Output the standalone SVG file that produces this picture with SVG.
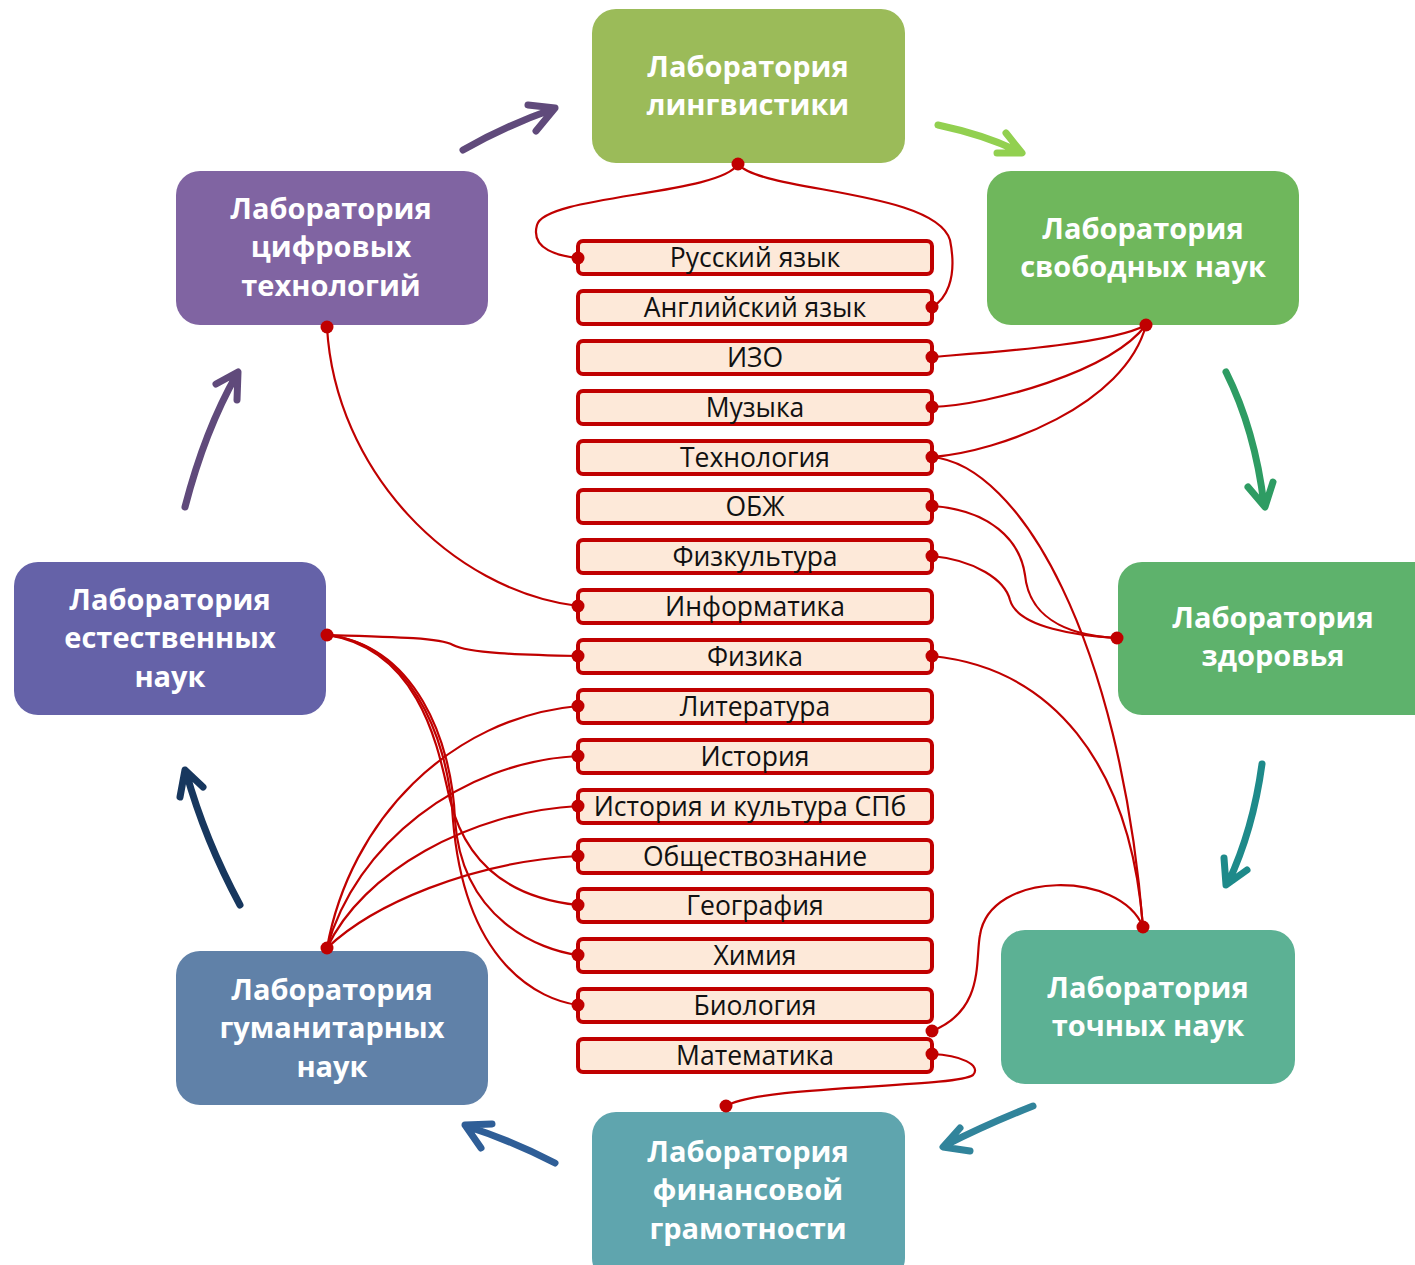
<svg xmlns="http://www.w3.org/2000/svg" width="1415" height="1265" viewBox="0 0 1415 1265">
<style>
.lab text{font-family:"Open Sans","Noto Sans",sans-serif;font-weight:bold;font-size:29px;fill:#fff;text-anchor:middle}
.subj rect{fill:#FDE9D9;stroke:#C00000;stroke-width:4}
.subj text{font-family:"Open Sans","Noto Sans",sans-serif;font-size:26.5px;fill:#111;text-anchor:middle}
.conn path{fill:none;stroke:#C00000;stroke-width:2.2}
.conn circle{fill:#C00000}
.cyc path{fill:none;stroke-width:7;stroke-linecap:round;stroke-linejoin:round}
</style>
<rect width="1415" height="1265" fill="#fff"/>

<g class="cyc" id="cycle-arrows">
<path stroke="#604A7B" d="M463,150 Q505,126 553,109 M528,105 L555,108 L536,131"/>
<path stroke="#92D050" d="M938,125 Q985,135 1020,152 M1006,133 L1022,153 L997,153"/>
<path stroke="#2E9C63" d="M1226,372 Q1255,430 1264,505 M1248,487 L1265,507 L1273,482"/>
<path stroke="#1E8A8A" d="M1262,764 Q1253,830 1228,883 M1224,858 L1226,885 L1247,870"/>
<path stroke="#31849B" d="M1033,1106 Q985,1125 944,1146 M960,1128 L943,1147 L970,1151"/>
<path stroke="#2F5E97" d="M555,1163 Q510,1140 466,1126 M492,1124 L465,1125 L481,1148"/>
<path stroke="#17375E" d="M240,905 Q205,840 186,772 M180,797 L185,770 L203,787"/>
<path stroke="#604A7B" d="M185,507 Q205,430 237,374 M216,384 L238,372 L237,400"/>
</g>

<g class="lab" id="lab-ling"><rect x="592" y="9" width="313" height="154" rx="24" fill="#9BBB59"/><text x="748" y="77">Лаборатория</text><text x="748" y="115">лингвистики</text></g>
<g class="lab" id="lab-free"><rect x="987" y="171" width="312" height="154" rx="24" fill="#6FB75C"/><text x="1143" y="239">Лаборатория</text><text x="1143" y="277">свободных наук</text></g>
<g class="lab" id="lab-health"><rect x="1118" y="562" width="320" height="153" rx="24" fill="#5EB26C"/><text x="1273" y="628">Лаборатория</text><text x="1273" y="666">здоровья</text></g>
<g class="lab" id="lab-exact"><rect x="1001" y="930" width="294" height="154" rx="24" fill="#5CB194"/><text x="1148" y="998">Лаборатория</text><text x="1148" y="1036">точных наук</text></g>
<g class="lab" id="lab-fin"><rect x="592" y="1112" width="313" height="170" rx="24" fill="#5FA5AE"/><text x="748" y="1162">Лаборатория</text><text x="748" y="1200">финансовой</text><text x="748" y="1239">грамотности</text></g>
<g class="lab" id="lab-hum"><rect x="176" y="951" width="312" height="154" rx="24" fill="#6081A8"/><text x="332" y="1000">Лаборатория</text><text x="332" y="1038">гуманитарных</text><text x="332" y="1077">наук</text></g>
<g class="lab" id="lab-nat"><rect x="14" y="562" width="312" height="153" rx="24" fill="#6562A8"/><text x="170" y="610">Лаборатория</text><text x="170" y="648">естественных</text><text x="170" y="687">наук</text></g>
<g class="lab" id="lab-digit"><rect x="176" y="171" width="312" height="154" rx="24" fill="#8064A2"/><text x="331" y="219">Лаборатория</text><text x="331" y="257">цифровых</text><text x="331" y="296">технологий</text></g>

<g class="subj" id="s-rus"><rect x="578" y="241" width="354" height="33" rx="5"/><text x="755" y="267">Русский язык</text></g>
<g class="subj" id="s-eng"><rect x="578" y="291" width="354" height="33" rx="5"/><text x="755" y="317">Английский язык</text></g>
<g class="subj" id="s-izo"><rect x="578" y="341" width="354" height="33" rx="5"/><text x="755" y="367">ИЗО</text></g>
<g class="subj" id="s-mus"><rect x="578" y="391" width="354" height="33" rx="5"/><text x="755" y="417">Музыка</text></g>
<g class="subj" id="s-tech"><rect x="578" y="441" width="354" height="33" rx="5"/><text x="755" y="467">Технология</text></g>
<g class="subj" id="s-obzh"><rect x="578" y="490" width="354" height="33" rx="5"/><text x="755" y="516">ОБЖ</text></g>
<g class="subj" id="s-pe"><rect x="578" y="540" width="354" height="33" rx="5"/><text x="755" y="566">Физкультура</text></g>
<g class="subj" id="s-inf"><rect x="578" y="590" width="354" height="33" rx="5"/><text x="755" y="616">Информатика</text></g>
<g class="subj" id="s-phys"><rect x="578" y="640" width="354" height="33" rx="5"/><text x="755" y="666">Физика</text></g>
<g class="subj" id="s-lit"><rect x="578" y="690" width="354" height="33" rx="5"/><text x="755" y="716">Литература</text></g>
<g class="subj" id="s-hist"><rect x="578" y="740" width="354" height="33" rx="5"/><text x="755" y="766">История</text></g>
<g class="subj" id="s-spb"><rect x="578" y="790" width="354" height="33" rx="5"/><text x="750" y="816">История и культура СПб</text></g>
<g class="subj" id="s-soc"><rect x="578" y="840" width="354" height="33" rx="5"/><text x="755" y="866">Обществознание</text></g>
<g class="subj" id="s-geo"><rect x="578" y="889" width="354" height="33" rx="5"/><text x="755" y="915">География</text></g>
<g class="subj" id="s-chem"><rect x="578" y="939" width="354" height="33" rx="5"/><text x="755" y="965">Химия</text></g>
<g class="subj" id="s-bio"><rect x="578" y="989" width="354" height="33" rx="5"/><text x="755" y="1015">Биология</text></g>
<g class="subj" id="s-math"><rect x="578" y="1039" width="354" height="33" rx="5"/><text x="755" y="1065">Математика</text></g>

<g class="conn" id="connectors">
<path d="M738,164 C720,195 545,195 537,225 C530,250 560,256 578,258"/>
<path d="M738,164 C760,192 935,190 950,240 C958,280 945,300 932,307"/>
<path d="M1146,325 C1110,345 980,353 932,357"/>
<path d="M1146,325 C1110,372 990,405 932,407"/>
<path d="M1146,325 C1125,405 1000,452 932,457"/>
<path d="M932,506 C990,510 1020,540 1025,575 C1030,625 1080,636 1117,638"/>
<path d="M932,556 C975,560 1005,580 1010,600 C1018,628 1080,636 1117,638"/>
<path d="M932,457 C1020,465 1120,640 1143,927"/>
<path d="M932,656 C1050,668 1130,760 1143,927"/>
<path d="M932,1031 C985,1010 975,960 980,935 C990,870 1120,870 1143,927"/>
<path d="M932,1054 C960,1055 982,1065 973,1075 C955,1088 760,1085 726,1106"/>
<path d="M327,327 C335,470 450,590 578,606"/>
<path d="M327,635 C400,637 440,638 453,645 C468,653 520,655 578,656"/>
<path d="M327,635 C425,650 440,760 450,800 C470,880 530,900 578,905"/>
<path d="M327,635 C415,645 452,740 455,820 C462,920 540,950 578,955"/>
<path d="M327,635 C405,642 448,730 453,820 C465,965 540,1000 578,1005"/>
<path d="M327,948 C350,820 450,718 578,706"/>
<path d="M327,948 C355,845 460,762 578,756"/>
<path d="M327,948 C362,872 470,812 578,806"/>
<path d="M327,948 C372,905 470,862 578,856"/>
<circle cx="738" cy="164" r="6.5"/><circle cx="578" cy="258" r="6.5"/><circle cx="932" cy="307" r="6.5"/>
<circle cx="1146" cy="325" r="6.5"/><circle cx="932" cy="357" r="6.5"/><circle cx="932" cy="407" r="6.5"/><circle cx="932" cy="457" r="6.5"/>
<circle cx="932" cy="506" r="6.5"/><circle cx="932" cy="556" r="6.5"/><circle cx="1117" cy="638" r="6.5"/>
<circle cx="932" cy="656" r="6.5"/><circle cx="1143" cy="927" r="6.5"/><circle cx="932" cy="1031" r="6.5"/><circle cx="932" cy="1054" r="6.5"/><circle cx="726" cy="1106" r="6.5"/>
<circle cx="327" cy="327" r="6.5"/><circle cx="578" cy="606" r="6.5"/><circle cx="327" cy="635" r="6.5"/><circle cx="578" cy="656" r="6.5"/>
<circle cx="578" cy="905" r="6.5"/><circle cx="578" cy="955" r="6.5"/><circle cx="578" cy="1005" r="6.5"/>
<circle cx="327" cy="948" r="6.5"/><circle cx="578" cy="706" r="6.5"/><circle cx="578" cy="756" r="6.5"/><circle cx="578" cy="806" r="6.5"/><circle cx="578" cy="856" r="6.5"/>
</g>
</svg>
